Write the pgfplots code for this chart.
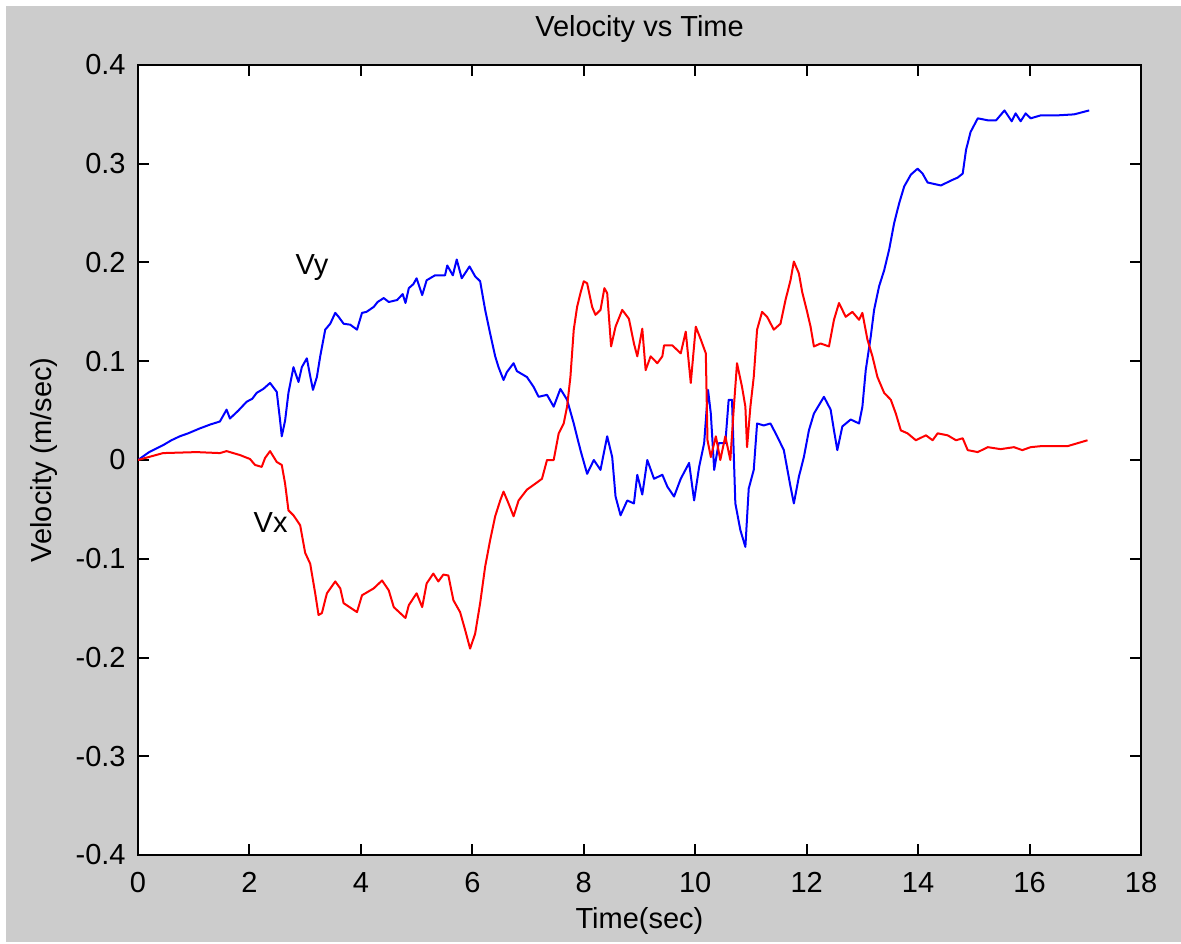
\documentclass[border=0pt]{standalone}
\usepackage{fontspec}
\setmainfont{Liberation Sans}
\usepackage{pgfplots}
\pgfplotsset{compat=1.18}
\usepackage{pgfplotstable}

% Vy (m/sec) against time (sec)
\pgfplotstableread{
t v
0 0
0.20 0.008
0.45 0.015
0.60 0.020
0.75 0.024
0.90 0.027
1.11 0.032
1.30 0.036
1.47 0.039
1.59 0.051
1.65 0.042
1.80 0.050
1.95 0.059
2.05 0.062
2.13 0.068
2.25 0.072
2.37 0.078
2.49 0.069
2.55 0.040
2.58 0.024
2.64 0.040
2.70 0.068
2.79 0.094
2.88 0.079
2.94 0.094
3.03 0.103
3.09 0.085
3.14 0.071
3.21 0.084
3.27 0.105
3.36 0.132
3.45 0.138
3.54 0.149
3.60 0.145
3.69 0.138
3.81 0.137
3.93 0.132
4.02 0.149
4.10 0.150
4.23 0.155
4.30 0.160
4.41 0.164
4.50 0.160
4.65 0.162
4.75 0.168
4.80 0.159
4.86 0.174
4.94 0.178
5.00 0.184
5.10 0.167
5.18 0.182
5.33 0.187
5.51 0.187
5.55 0.197
5.65 0.187
5.72 0.203
5.81 0.184
5.95 0.196
6.05 0.186
6.14 0.181
6.23 0.152
6.32 0.128
6.41 0.105
6.47 0.094
6.56 0.081
6.62 0.089
6.74 0.098
6.80 0.090
6.86 0.088
6.98 0.084
7.10 0.074
7.19 0.064
7.34 0.066
7.46 0.054
7.58 0.072
7.70 0.061
7.82 0.037
7.94 0.010
8.06 -0.014
8.18 0.000
8.30 -0.010
8.42 0.024
8.51 0.003
8.57 -0.037
8.66 -0.056
8.78 -0.041
8.90 -0.044
8.96 -0.015
9.05 -0.035
9.14 0.000
9.26 -0.019
9.41 -0.015
9.50 -0.027
9.62 -0.037
9.74 -0.019
9.89 -0.003
9.98 -0.041
10.07 -0.007
10.16 0.017
10.23 0.071
10.28 0.047
10.34 -0.010
10.42 0.017
10.54 0.017
10.60 0.061
10.66 0.061
10.72 -0.044
10.81 -0.071
10.90 -0.088
10.96 -0.029
11.05 -0.010
11.11 0.037
11.23 0.035
11.35 0.037
11.47 0.024
11.59 0.010
11.71 -0.027
11.77 -0.044
11.86 -0.017
11.95 0.003
12.04 0.030
12.13 0.047
12.31 0.064
12.43 0.051
12.49 0.030
12.55 0.010
12.64 0.034
12.79 0.041
12.94 0.037
13.00 0.054
13.06 0.091
13.15 0.125
13.21 0.152
13.30 0.176
13.39 0.192
13.48 0.213
13.57 0.240
13.66 0.260
13.75 0.277
13.87 0.289
13.99 0.295
14.08 0.290
14.17 0.281
14.41 0.278
14.59 0.283
14.71 0.286
14.80 0.290
14.86 0.314
14.94 0.332
15.07 0.346
15.25 0.344
15.40 0.344
15.55 0.354
15.68 0.343
15.75 0.351
15.84 0.343
15.93 0.351
16.02 0.346
16.20 0.349
16.50 0.349
16.80 0.350
17.07 0.354
}\vytable

% Vx (m/sec) against time (sec)
\pgfplotstableread{
t v
0 0
0.45 0.007
1.05 0.008
1.47 0.007
1.59 0.009
1.83 0.005
2.01 0.001
2.10 -0.005
2.22 -0.007
2.28 0.002
2.37 0.009
2.49 -0.002
2.58 -0.005
2.64 -0.024
2.70 -0.051
2.79 -0.056
2.91 -0.066
3.00 -0.094
3.09 -0.105
3.18 -0.135
3.24 -0.157
3.30 -0.155
3.39 -0.135
3.54 -0.123
3.63 -0.130
3.69 -0.145
3.93 -0.154
4.02 -0.137
4.23 -0.130
4.38 -0.122
4.50 -0.132
4.59 -0.149
4.80 -0.160
4.86 -0.147
5.00 -0.135
5.10 -0.149
5.18 -0.125
5.30 -0.115
5.39 -0.123
5.48 -0.116
5.57 -0.117
5.66 -0.142
5.78 -0.154
5.87 -0.172
5.96 -0.191
6.05 -0.176
6.14 -0.145
6.23 -0.108
6.32 -0.081
6.41 -0.057
6.50 -0.041
6.56 -0.032
6.65 -0.044
6.74 -0.057
6.83 -0.041
6.98 -0.030
7.13 -0.024
7.25 -0.019
7.34 0.000
7.46 0.000
7.55 0.027
7.64 0.037
7.70 0.054
7.76 0.084
7.82 0.132
7.88 0.155
7.94 0.169
8.00 0.181
8.06 0.179
8.15 0.155
8.21 0.147
8.30 0.152
8.37 0.174
8.42 0.169
8.49 0.115
8.57 0.135
8.69 0.152
8.81 0.143
8.90 0.118
8.96 0.105
9.05 0.133
9.11 0.091
9.20 0.105
9.32 0.098
9.41 0.105
9.44 0.116
9.59 0.116
9.74 0.108
9.83 0.130
9.92 0.078
10.01 0.135
10.10 0.122
10.19 0.108
10.22 0.020
10.28 0.003
10.37 0.024
10.45 0.000
10.54 0.024
10.63 0.000
10.69 0.051
10.75 0.098
10.84 0.074
10.90 0.054
10.93 0.013
10.99 0.054
11.05 0.084
11.11 0.132
11.20 0.150
11.29 0.145
11.41 0.132
11.53 0.138
11.62 0.162
11.71 0.182
11.77 0.201
11.86 0.189
11.92 0.170
12.00 0.152
12.07 0.135
12.13 0.115
12.25 0.118
12.40 0.115
12.49 0.142
12.58 0.159
12.70 0.145
12.82 0.150
12.94 0.142
13.00 0.149
13.09 0.122
13.18 0.105
13.27 0.084
13.39 0.068
13.51 0.061
13.60 0.047
13.69 0.030
13.81 0.027
13.96 0.020
14.14 0.025
14.26 0.020
14.35 0.027
14.53 0.025
14.68 0.020
14.80 0.022
14.89 0.010
15.07 0.008
15.25 0.013
15.48 0.011
15.72 0.013
15.87 0.010
16.02 0.013
16.20 0.014
16.68 0.014
16.80 0.016
17.04 0.020
}\vxtable

\definecolor{figgrey}{gray}{0.8}

\begin{document}
\fontsize{14.5}{17.4}\selectfont
\begin{tikzpicture}[font=\fontsize{14.5}{17.4}\selectfont]
  % figure window background
  \fill[white] (-69pt,-44pt) rectangle (521.5pt,427.5pt);
  \fill[figgrey] (-66pt,-43.5pt) rectangle (521.5pt,424.5pt);
  \begin{axis}[
    at={(0pt,0pt)}, anchor=south west,
    scale only axis,
    width=501.5pt, height=395pt,
    xmin=0, xmax=18, ymin=-0.4, ymax=0.4,
    xtick={0,2,4,6,8,10,12,14,16,18},
    ytick={-0.4,-0.3,-0.2,-0.1,0,0.1,0.2,0.3,0.4},
    yticklabels={-0.4,-0.3,-0.2,-0.1,0,0.1,0.2,0.3,0.4},
    xticklabels={0,2,4,6,8,10,12,14,16,18},
    tick align=inside,
    xtick pos=both, ytick pos=both,
    ticklabel pos=left,
    major tick length=5.5pt,
    minor tick num=0,
    axis line style={black, line width=1pt},
    every tick/.style={black, line width=1pt},
    axis background/.style={fill=white},
    xticklabel style={anchor=base, inner sep=0pt, yshift=-18.5pt},
    yticklabel style={anchor=east, inner sep=0pt, xshift=-6pt},
    every axis title/.style={at={(0.5,1)}, anchor=base, yshift=14pt},
    every axis x label/.style={at={(0.5,0)}, anchor=base, yshift=-36.5pt},
    every axis y label/.style={at={(0,0.5)}, xshift=-43pt, rotate=90, anchor=base},
    title={Velocity vs Time},
    xlabel={Time(sec)},
    ylabel={Velocity (m/sec)},
  ]
    \addplot[blue, line width=1pt, line join=round] table[x=t, y=v] {\vytable};
    \addplot[red, line width=1pt, line join=round] table[x=t, y=v] {\vxtable};
    \node[anchor=base west, inner sep=0pt] at (axis cs:2.82,0.188) {Vy};
    \node[anchor=base west, inner sep=0pt] at (axis cs:2.07,-0.073) {Vx};
  \end{axis}
\end{tikzpicture}
\end{document}
